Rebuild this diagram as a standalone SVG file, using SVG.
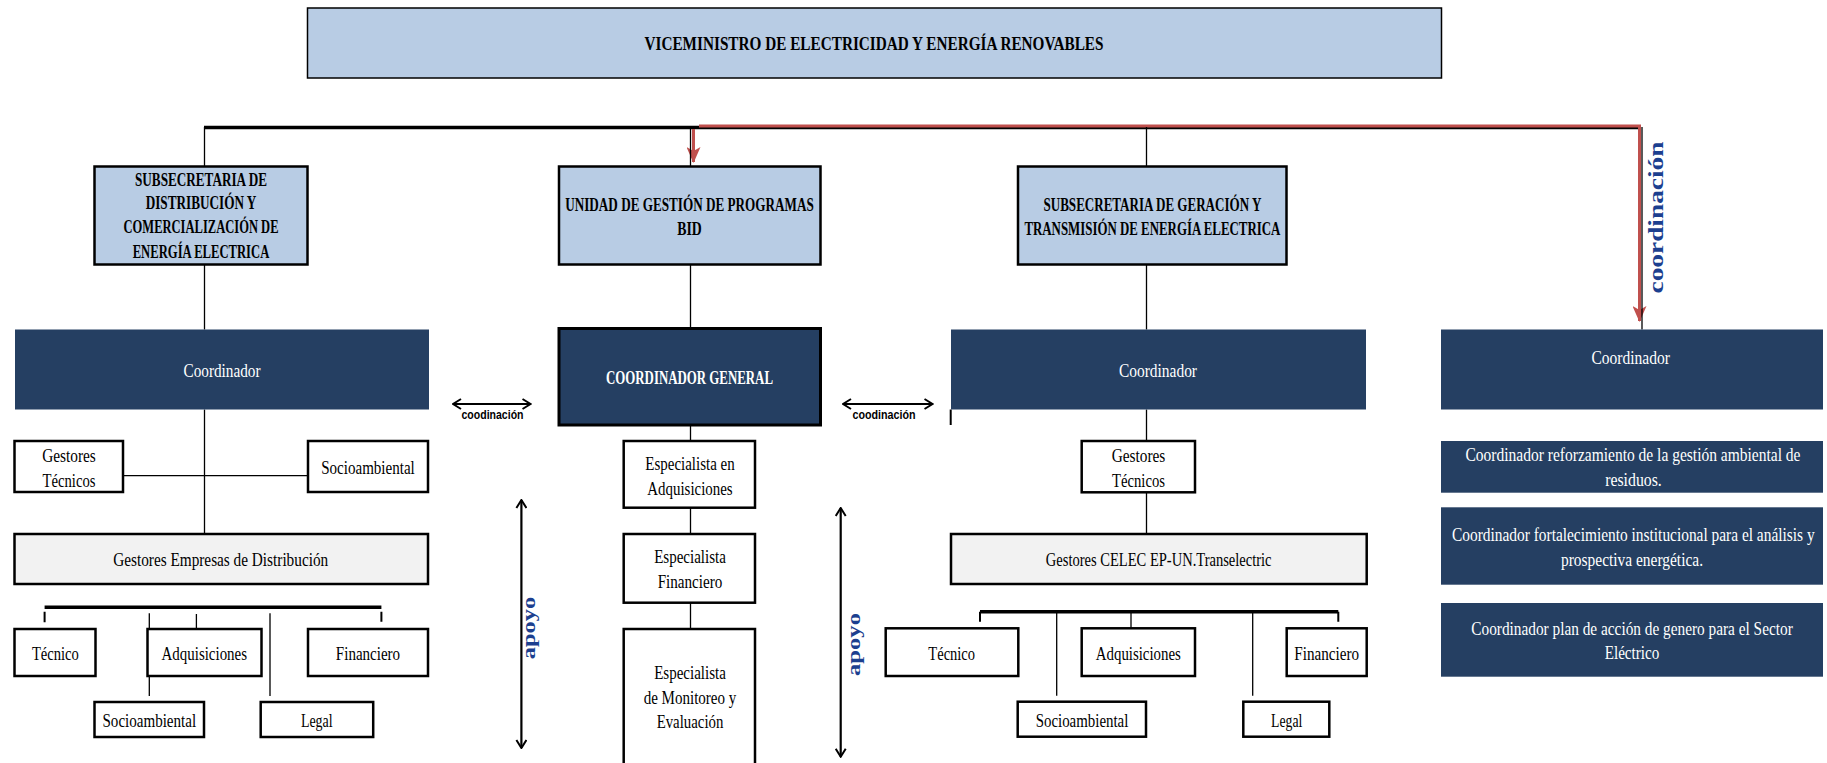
<svg xmlns="http://www.w3.org/2000/svg" width="1827" height="763" viewBox="0 0 1827 763">
<style>
.hdr{fill:#B8CCE4;stroke:#000;stroke-width:2.5}
.top{fill:#B8CCE4;stroke:#000;stroke-width:1.5}
.nav{fill:#253F62}
.navb{fill:#253F62;stroke:#000;stroke-width:3}
.wb{fill:#fff;stroke:#000;stroke-width:2.5}
.gb{fill:#F2F2F2;stroke:#000;stroke-width:2.5}
text{font-family:"Liberation Serif","DejaVu Serif",serif;text-anchor:middle}
.b{font-weight:bold;font-size:18px;fill:#000}
.r{font-size:19px;fill:#000}
.w{font-size:19px;fill:#fff}
.wbold{font-weight:bold;font-size:18px;fill:#fff}
.lab{font-family:"Liberation Sans",Arial,sans-serif;font-weight:bold;font-size:12px;fill:#000}
.rot{font-weight:bold;fill:#1C3F8F}
.ln{stroke:#000;stroke-width:1.3;fill:none}
.th{stroke:#000;stroke-width:3.5;fill:none}
.tk{stroke:#000;stroke-width:2;fill:none}
.arr{stroke:#000;stroke-width:2.2;fill:none}
.red{stroke:#C0504D;stroke-width:3;fill:none}
</style>
<defs>
<marker id="chev" viewBox="0 0 10 12" refX="9" refY="6" markerWidth="10" markerHeight="12" markerUnits="userSpaceOnUse" orient="auto-start-reverse">
<path d="M1,1 L9,6 L1,11" fill="none" stroke="#000" stroke-width="2"/>
</marker>
<marker id="redh" viewBox="0 0 16 14" refX="15" refY="7" markerWidth="16" markerHeight="14" markerUnits="userSpaceOnUse" orient="auto">
<path d="M0,0 L16,7 L0,14 L4,7 Z" fill="#C0504D"/>
</marker>
</defs>
<rect width="1827" height="763" fill="#fff"/>

<g id="connectors">
<path class="th" d="M204,127.5 H1641"/>
<path class="red" d="M699,126 H1639.5 V321" marker-end="url(#redh)"/>
<path class="red" d="M693.5,129 V162" marker-end="url(#redh)"/>
<path class="ln" d="M204.5,127 V166.5 M204.5,264.5 V329.5 M204.5,409.5 V534"/>
<path class="ln" d="M123,475.7 H308"/>
<path class="ln" d="M690.5,127 V166.5 M690.5,264.5 V328.5 M690.5,425 V441 M690.5,507.7 V534 M690.5,602.7 V629"/>
<path class="ln" d="M1146.5,127 V166.5 M1146.5,264.5 V329.5 M1146.5,409.5 V441 M1146.5,492.3 V534"/>
<path class="ln" d="M1642,127 V329.5"/>
<path class="tk" d="M950.7,409.5 V425"/>
<path class="th" d="M44.6,607.3 H381.4"/>
<path class="tk" d="M44.6,611.7 V622.3 M381.4,611.7 V621.7"/>
<path class="ln" d="M196.4,614 V629 M149.3,613.3 V696 M270,613.3 V696"/>
<path class="th" d="M980,611.7 H1338.3"/>
<path class="tk" d="M980,611.7 V621.7 M1338.3,611.7 V621.7"/>
<path class="ln" d="M1131,611.7 V628.3 M1056.7,611.7 V695.7 M1252.7,611.7 V695.7"/>
<path class="arr" d="M453,404 H530.5" marker-start="url(#chev)" marker-end="url(#chev)"/>
<path class="arr" d="M843,404 H932.5" marker-start="url(#chev)" marker-end="url(#chev)"/>
<path class="arr" d="M521.4,500 V748" marker-start="url(#chev)" marker-end="url(#chev)"/>
<path class="arr" d="M840.7,508 V756.7" marker-start="url(#chev)" marker-end="url(#chev)"/>
<text class="lab" x="492.5" y="419" textLength="62" lengthAdjust="spacingAndGlyphs">coodinación</text>
<text class="lab" x="884" y="419" textLength="63" lengthAdjust="spacingAndGlyphs">coodinación</text>
<text class="rot" font-size="27.5" transform="translate(1657,217.5) scale(0.73,1) rotate(-90)" y="8" textLength="152" lengthAdjust="spacingAndGlyphs">coordinación</text>
<text class="rot" font-size="24.5" transform="translate(532.5,628) scale(0.73,1) rotate(-90)" y="3" textLength="62.6" lengthAdjust="spacingAndGlyphs">apoyo</text>
<text class="rot" font-size="24.5" transform="translate(858,644.5) scale(0.73,1) rotate(-90)" y="3" textLength="63" lengthAdjust="spacingAndGlyphs">apoyo</text>
</g>

<g id="viceministro">
<rect class="top" x="307.5" y="8" width="1134" height="70"/>
<text class="b" x="874" y="49.5" textLength="459" lengthAdjust="spacingAndGlyphs">VICEMINISTRO DE ELECTRICIDAD Y ENERGÍA RENOVABLES</text>
</g>

<g id="subsec-distribucion">
<rect class="hdr" x="94.5" y="166.5" width="213" height="98"/>
<text class="b" x="201" y="185.5" textLength="132" lengthAdjust="spacingAndGlyphs">SUBSECRETARIA DE</text>
<text class="b" x="201" y="209" textLength="110.6" lengthAdjust="spacingAndGlyphs">DISTRIBUCIÓN Y</text>
<text class="b" x="201" y="233" textLength="155" lengthAdjust="spacingAndGlyphs">COMERCIALIZACIÓN DE</text>
<text class="b" x="201" y="258" textLength="136.6" lengthAdjust="spacingAndGlyphs">ENERGÍA ELECTRICA</text>
</g>

<g id="unidad-bid">
<rect class="hdr" x="559" y="166.5" width="261.5" height="98"/>
<text class="b" x="689.5" y="210.5" textLength="248.5" lengthAdjust="spacingAndGlyphs">UNIDAD DE GESTIÓN DE PROGRAMAS</text>
<text class="b" x="689.5" y="234.8" textLength="24.5" lengthAdjust="spacingAndGlyphs">BID</text>
</g>

<g id="subsec-generacion">
<rect class="hdr" x="1018" y="166.5" width="268.5" height="98"/>
<text class="b" x="1152.4" y="210.5" textLength="217.8" lengthAdjust="spacingAndGlyphs">SUBSECRETARIA DE GERACIÓN Y</text>
<text class="b" x="1152.4" y="234.8" textLength="256" lengthAdjust="spacingAndGlyphs">TRANSMISIÓN DE ENERGÍA ELECTRICA</text>
</g>

<g id="coord-left">
<rect class="nav" x="15" y="329.5" width="414" height="80"/>
<text class="w" x="222" y="377" textLength="77" lengthAdjust="spacingAndGlyphs">Coordinador</text>
</g>

<g id="coord-general">
<rect class="navb" x="559" y="328.5" width="261.5" height="96.5"/>
<text class="wbold" x="689.5" y="384" textLength="167" lengthAdjust="spacingAndGlyphs">COORDINADOR GENERAL</text>
</g>

<g id="coord-right">
<rect class="nav" x="951" y="329.5" width="415" height="80"/>
<text class="w" x="1158" y="377" textLength="78" lengthAdjust="spacingAndGlyphs">Coordinador</text>
</g>

<g id="coord-far-right">
<rect class="nav" x="1441" y="329.5" width="382" height="80"/>
<text class="w" x="1630.7" y="364" textLength="78.4" lengthAdjust="spacingAndGlyphs">Coordinador</text>
</g>

<g id="l-gestores-tecnicos">
<rect class="wb" x="14.5" y="441" width="108.5" height="51"/>
<text class="r" x="69" y="461.5" textLength="53.6" lengthAdjust="spacingAndGlyphs">Gestores</text>
<text class="r" x="69" y="486.5" textLength="52.9" lengthAdjust="spacingAndGlyphs">Técnicos</text>
</g>
<g id="l-socioambiental-top">
<rect class="wb" x="308" y="441" width="120" height="51"/>
<text class="r" x="368" y="474" textLength="93.6" lengthAdjust="spacingAndGlyphs">Socioambiental</text>
</g>
<g id="l-gestores-empresas">
<rect class="gb" x="14.5" y="534" width="413.5" height="50"/>
<text class="r" x="220.7" y="565.5" textLength="215" lengthAdjust="spacingAndGlyphs">Gestores Empresas de Distribución</text>
</g>
<g id="l-tecnico">
<rect class="wb" x="14.5" y="629" width="81" height="47"/>
<text class="r" x="55.4" y="659.5" textLength="47" lengthAdjust="spacingAndGlyphs">Técnico</text>
</g>
<g id="l-adquisiciones">
<rect class="wb" x="147.5" y="629" width="114" height="47"/>
<text class="r" x="204.3" y="659.5" textLength="85.4" lengthAdjust="spacingAndGlyphs">Adquisiciones</text>
</g>
<g id="l-financiero">
<rect class="wb" x="308" y="629" width="120" height="47"/>
<text class="r" x="368" y="659.5" textLength="64.3" lengthAdjust="spacingAndGlyphs">Financiero</text>
</g>
<g id="l-socioambiental">
<rect class="wb" x="94.5" y="702" width="109.5" height="35"/>
<text class="r" x="149.3" y="727.3" textLength="93.6" lengthAdjust="spacingAndGlyphs">Socioambiental</text>
</g>
<g id="l-legal">
<rect class="wb" x="260.7" y="702" width="112.5" height="35"/>
<text class="r" x="316.8" y="727.3" textLength="31.8" lengthAdjust="spacingAndGlyphs">Legal</text>
</g>

<g id="m-esp-adquisiciones">
<rect class="wb" x="623.7" y="441" width="131.3" height="66.7"/>
<text class="r" x="690" y="470.3" textLength="89.3" lengthAdjust="spacingAndGlyphs">Especialista en</text>
<text class="r" x="690" y="494.6" textLength="85.3" lengthAdjust="spacingAndGlyphs">Adquisiciones</text>
</g>
<g id="m-esp-financiero">
<rect class="wb" x="623.7" y="534" width="131.3" height="68.7"/>
<text class="r" x="690" y="563" textLength="71.7" lengthAdjust="spacingAndGlyphs">Especialista</text>
<text class="r" x="690" y="588" textLength="64.7" lengthAdjust="spacingAndGlyphs">Financiero</text>
</g>
<g id="m-esp-monitoreo">
<rect class="wb" x="623.7" y="629" width="131.3" height="145"/>
<text class="r" x="690" y="679" textLength="71.7" lengthAdjust="spacingAndGlyphs">Especialista</text>
<text class="r" x="690" y="704" textLength="92.7" lengthAdjust="spacingAndGlyphs">de Monitoreo y</text>
<text class="r" x="690" y="728" textLength="66.7" lengthAdjust="spacingAndGlyphs">Evaluación</text>
</g>

<g id="r-gestores-tecnicos">
<rect class="wb" x="1081.7" y="441" width="113.3" height="51.3"/>
<text class="r" x="1138.5" y="461.5" textLength="53.7" lengthAdjust="spacingAndGlyphs">Gestores</text>
<text class="r" x="1138.5" y="486.5" textLength="53" lengthAdjust="spacingAndGlyphs">Técnicos</text>
</g>
<g id="r-gestores-celec">
<rect class="gb" x="951" y="534" width="415.7" height="50"/>
<text class="r" x="1158.7" y="565.5" textLength="225.7" lengthAdjust="spacingAndGlyphs">Gestores CELEC EP-UN.Transelectric</text>
</g>
<g id="r-tecnico">
<rect class="wb" x="885.7" y="628.3" width="132.6" height="47.7"/>
<text class="r" x="951.7" y="659.5" textLength="46.7" lengthAdjust="spacingAndGlyphs">Técnico</text>
</g>
<g id="r-adquisiciones">
<rect class="wb" x="1081.7" y="628.3" width="113.3" height="47.7"/>
<text class="r" x="1138.3" y="659.5" textLength="85" lengthAdjust="spacingAndGlyphs">Adquisiciones</text>
</g>
<g id="r-financiero">
<rect class="wb" x="1286.7" y="628.3" width="80" height="47.7"/>
<text class="r" x="1326.7" y="659.5" textLength="64.7" lengthAdjust="spacingAndGlyphs">Financiero</text>
</g>
<g id="r-socioambiental">
<rect class="wb" x="1017.7" y="701.7" width="128.3" height="35"/>
<text class="r" x="1082" y="727" textLength="92.7" lengthAdjust="spacingAndGlyphs">Socioambiental</text>
</g>
<g id="r-legal">
<rect class="wb" x="1243.3" y="701.7" width="86" height="35"/>
<text class="r" x="1286.7" y="727" textLength="31.3" lengthAdjust="spacingAndGlyphs">Legal</text>
</g>

<g id="fr-residuos">
<rect class="nav" x="1441" y="441" width="382" height="51.7"/>
<text class="w" transform="translate(1633,461.3) scale(0.72,1)" textLength="465.3" lengthAdjust="spacingAndGlyphs">Coordinador reforzamiento de la gestión ambiental de</text>
<text class="w" x="1633.5" y="486.3" textLength="56.6" lengthAdjust="spacingAndGlyphs">residuos.</text>
</g>
<g id="fr-fortalecimiento">
<rect class="nav" x="1441" y="507.3" width="382" height="77.4"/>
<text class="w" transform="translate(1633.3,541.3) scale(0.72,1)" textLength="503.6" lengthAdjust="spacingAndGlyphs">Coordinador fortalecimiento institucional para el análisis y</text>
<text class="w" x="1632" y="565.6" textLength="142" lengthAdjust="spacingAndGlyphs">prospectiva energética.</text>
</g>
<g id="fr-genero">
<rect class="nav" x="1441" y="603" width="382" height="73.7"/>
<text class="w" transform="translate(1632,634.6) scale(0.72,1)" textLength="446.5" lengthAdjust="spacingAndGlyphs">Coordinador plan de acción de genero para el Sector</text>
<text class="w" x="1632" y="659" textLength="54.5" lengthAdjust="spacingAndGlyphs">Eléctrico</text>
</g>
</svg>
